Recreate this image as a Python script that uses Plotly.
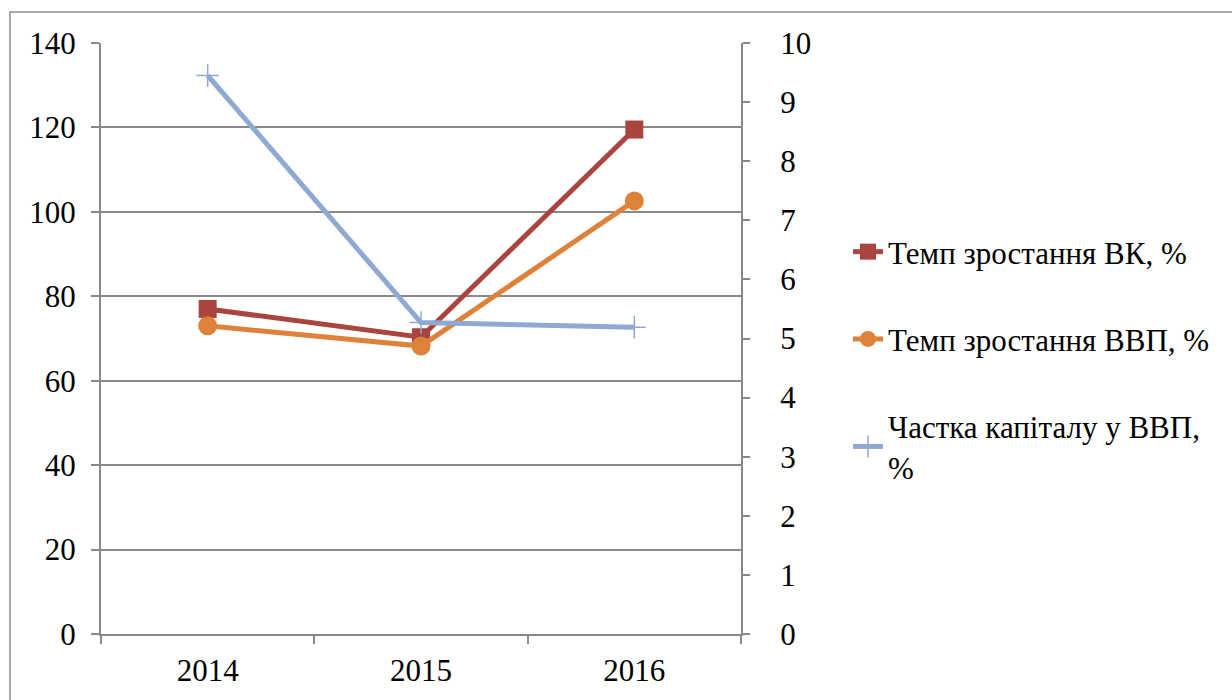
import plotly.graph_objects as go

years = ["2014", "2015", "2016"]
vk_growth = [77.0, 70.3, 119.5]
gdp_growth = [73.0, 68.2, 102.6]
capital_share = [9.45, 5.27, 5.19]

names = ["Темп зростання ВК, %", "Темп зростання ВВП, %", "Частка капіталу у ВВП,<br>%"]

RED = "#A9443F"
ORANGE = "#DE8239"
BLUE = "#8FA9D3"
GRID = "#898989"
FONT = "Liberation Serif"
FS = 31

fig = go.Figure()
fig.add_trace(go.Scatter(
    x=years, y=vk_growth, name=names[0], mode="lines+markers",
    line=dict(color=RED, width=5),
    marker=dict(symbol="square", size=18, color=RED),
    legendgroup="a",
))
fig.add_trace(go.Scatter(
    x=years, y=gdp_growth, name=names[1], mode="lines+markers",
    line=dict(color=ORANGE, width=5),
    marker=dict(symbol="circle", size=19, color=ORANGE),
    legendgroup="b",
))
fig.add_trace(go.Scatter(
    x=years, y=capital_share, name=names[2], mode="lines+markers",
    line=dict(color=BLUE, width=5),
    marker=dict(symbol="cross-thin", size=16, color=BLUE, line=dict(color=BLUE, width=1.5)),
    yaxis="y2", legendgroup="c",
))

L, R, T, B = 101, 741, 43, 634
W, H = 1232, 700
pw, ph = R - L, B - T

def px(x):
    return (x - L) / pw

def py(y):
    return (B - y) / ph

fig.update_layout(
    width=W, height=H,
    margin=dict(l=L, r=W - R, t=T, b=H - B, pad=0),
    paper_bgcolor="white", plot_bgcolor="white",
    font=dict(family=FONT, size=FS, color="black"),
    showlegend=True,
    legend=dict(
        x=px(848), y=py(225), xanchor="left", yanchor="top",
        font=dict(family=FONT, size=FS, color="black"),
        tracegroupgap=44, bgcolor="rgba(0,0,0,0)",
    ),
    xaxis=dict(
        type="category", range=[-0.5, 2.5],
        showgrid=False, showline=True, linecolor=GRID, linewidth=2,
        ticks="outside", tickson="boundaries", ticklen=8, tickcolor=GRID, tickwidth=2,
        tickfont=dict(family=FONT, size=FS), ticklabelstandoff=8,
        zeroline=False,
    ),
    yaxis=dict(
        range=[0, 140], dtick=20, tick0=0,
        showgrid=True, gridcolor=GRID, gridwidth=2,
        showline=True, linecolor=GRID, linewidth=2,
        ticks="outside", ticklen=8, tickcolor=GRID, tickwidth=2,
        tickfont=dict(family=FONT, size=FS), ticklabelstandoff=9,
        zeroline=False,
    ),
    yaxis2=dict(
        range=[0, 10], dtick=1, tick0=0, overlaying="y", side="right",
        showgrid=False, showline=True, linecolor=GRID, linewidth=2,
        ticks="outside", ticklen=7, tickcolor=GRID, tickwidth=2,
        tickfont=dict(family=FONT, size=FS), ticklabelstandoff=24,
        zeroline=False,
    ),
    shapes=[dict(
        type="rect", xref="paper", yref="paper",
        x0=px(10), x1=px(1250), y0=py(720), y1=py(12),
        line=dict(color="#8C8C8C", width=1.5), fillcolor="rgba(0,0,0,0)",
        layer="below",
    )],
)

fig.write_html("out.html", config={"displayModeBar": False},
               post_script="document.body.style.margin='0';")
